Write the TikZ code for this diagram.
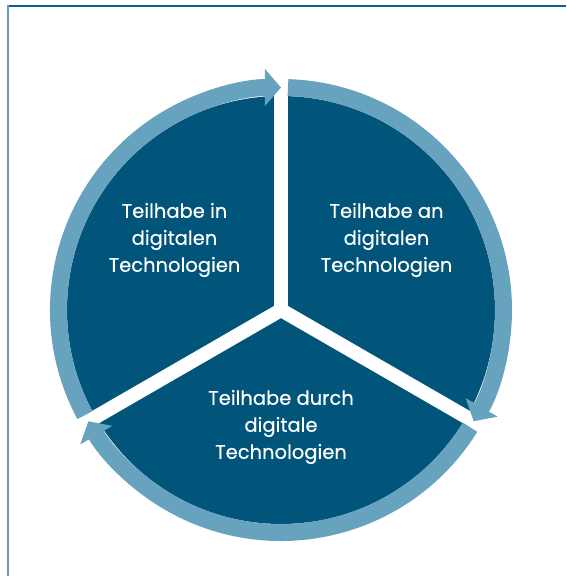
\documentclass[tikz,border=0pt]{standalone}
\usepackage{fontspec}
\setmainfont{Poppins}
\newfontfamily\labelfont{Poppins}[FakeBold=0.3]
\usetikzlibrary{arrows.meta}

\definecolor{discblue}{HTML}{02557A}
\definecolor{ringblue}{HTML}{67A3BF}
\definecolor{frametop}{HTML}{0B5F8A}
\definecolor{frameleft}{HTML}{6A9AB6}

\tikzset{
    ring/.style={line width=17pt, color=ringblue, -{Triangle[length=16pt, width=36pt]}},
    cut/.style={line width=14pt, color=white},
    label/.style={align=center, color=white, font=\labelfont\fontsize{19.5}{27}\selectfont}
}

\begin{document}
\begin{tikzpicture}[x=1pt, y=1pt]
        \useasboundingbox (-281, -266) rectangle (285, 310);
        \draw[frametop, line width=1.3pt] (-273, 304) -- (285, 304);
        \draw[frameleft, line width=1.5pt] (-273, 305) -- (-273, -266);

        \coordinate (c) at (0, 0);
        \fill[discblue] (c) circle (214);

        \foreach \a in {90, -30, 210}
            \draw[cut] (c) -- (\a:216);

        \foreach \a in {90, -30, -150}
        {
            \draw[ring] (\a+118.2:222.5) arc[start angle=\a+118.2, end angle=\a, radius=222.5];
        }

        \node[label] (in) at (-106.5, 70) {Teilhabe in\\digitalen\\Technologien};
        \node[label] (an) at (105.5, 70) {Teilhabe an\\digitalen\\Technologien};
        \node[label] (durch) at (0, -117) {Teilhabe durch\\digitale\\Technologien};
    \end{tikzpicture}
\end{document}
